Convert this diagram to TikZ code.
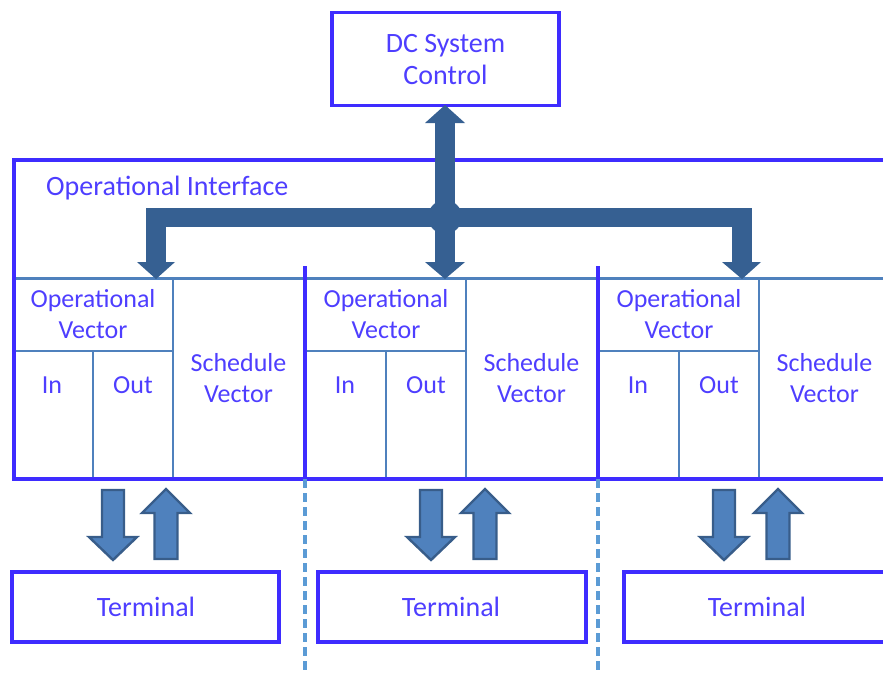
\documentclass[tikz,border=0pt]{standalone}
\usepackage{fontspec}
\setmainfont{Carlito}
\definecolor{frameblue}{RGB}{62,44,255}
\definecolor{textblue}{RGB}{78,62,255}
\definecolor{gridblue}{RGB}{79,129,189}
\definecolor{busblue}{RGB}{54,96,146}
\definecolor{arrowfill}{RGB}{79,129,189}
\definecolor{arrowedge}{RGB}{56,93,138}
\definecolor{dashblue}{RGB}{91,155,213}

\begin{document}
\begin{tikzpicture}[x=1pt,y=-1pt,
  lbl/.style={text=textblue, font=\fontsize{28}{31.5}\selectfont, align=center, inner sep=0pt},
  small/.style={lbl, font=\fontsize{26}{31}\selectfont},
  frame/.style={draw=frameblue, line width=3.8pt, inner sep=0pt},
  cell/.style={draw=gridblue, line width=1.8pt, inner sep=0pt, anchor=north west},
  bus/.style={fill=busblue},
  io/.style={fill=arrowfill, draw=arrowedge, line width=2.4pt, line join=miter},
  divider/.style={draw=frameblue, line width=4pt},
  split/.style={draw=dashblue, line width=4pt, dash pattern=on 9pt off 5pt},
  pics/dnarrow/.style={code={
    \filldraw[io] (-11,0) -- (11,0) -- (11,47) -- (24,47) -- (0,70)
      -- (-24,47) -- (-11,47) -- cycle;}},
  pics/uparrow/.style={code={
    \filldraw[io] (0,0) -- (24,24) -- (11.5,24) -- (11.5,70) -- (-11.5,70)
      -- (-11.5,24) -- (-24,24) -- cycle;}},
]
\useasboundingbox (0,0) rectangle (883,673);
\clip (0,0) rectangle (883,673);

% table cells of the three vector groups
\foreach \i/\ox in {1/12, 2/305, 3/598} {
  \node[cell, minimum width=160, minimum height=72]  (opv\i) at (\ox,278) {};
  \node[cell, minimum width=80,  minimum height=127] (in\i)  at (\ox,350) {};
  \node[cell, minimum width=80,  minimum height=127] (out\i) at (\ox+80,350) {};
  \node[cell, minimum width=133, minimum height=199] (sch\i) at (\ox+160,278) {};
  % multi-line labels are placed by the baseline of their last line
  \node[small, anchor=base] (opvt\i) at (\ox+81,338) {Operational\\Vector};
  \node[small, anchor=base] (int\i)  at (\ox+40,393) {In};
  \node[small, anchor=base] (outt\i) at (\ox+121,393) {Out};
  \node[small, anchor=base] (scht\i) at (\ox+226.5,402) {Schedule\\Vector};
}
% full-width separator below the interface title area
\draw[draw=gridblue, line width=1.8pt] (12,278) -- (900,278);

% operational interface frame (runs past the right edge)
\node[frame, anchor=north west, minimum width=900, minimum height=319] (oi) at (12,158) {};
\node[lbl, anchor=base west] (oilbl) at (46,195) {Operational Interface};

% group dividers and their dashed continuation
\foreach \x in {305, 598} {
  \draw[divider] (\x,266) -- (\x,477);
  \draw[split] (\x,479) -- (\x,673);
}

% DC system control
\node[frame, minimum width=227, minimum height=93] (dc) at (445.5,59) {};
\node[lbl, anchor=base] (dct) at (445.5,84) {DC System\\Control};

% distribution bus
\coordinate (hub) at (445,217);
\fill[bus] (435,123) rectangle (455,262);
\fill[bus] (425,123) -- (445,105) -- (465,123) -- cycle;
\fill[bus] (146,208) rectangle (752,227);
\fill[bus] (146,208) rectangle (166,262);
\fill[bus] (732,208) rectangle (752,262);
\fill[bus] (425,262) -- (465,262) -- (445,279) -- cycle;
\fill[bus] (137,262) -- (175,262) -- (156,279) -- cycle;
\fill[bus] (722,262) -- (761,262) -- (742,279) -- cycle;
\fill[bus] (hub) circle (17);

% terminal exchange arrows
\pic at (113,490) {dnarrow};
\pic at (166,489) {uparrow};
\pic at (431,490) {dnarrow};
\pic at (485,489) {uparrow};
\pic at (724,490) {dnarrow};
\pic at (778,489) {uparrow};

% terminals
\node[frame, minimum width=267, minimum height=70] (term1) at (145.5,607) {};
\node[frame, minimum width=268, minimum height=70] (term2) at (452,607) {};
\node[frame, minimum width=268, minimum height=70] (term3) at (758,607) {};
\foreach \i/\x in {1/146, 2/451, 3/757}
  \node[lbl, anchor=base] (termt\i) at (\x,616) {Terminal};
\end{tikzpicture}
\end{document}
